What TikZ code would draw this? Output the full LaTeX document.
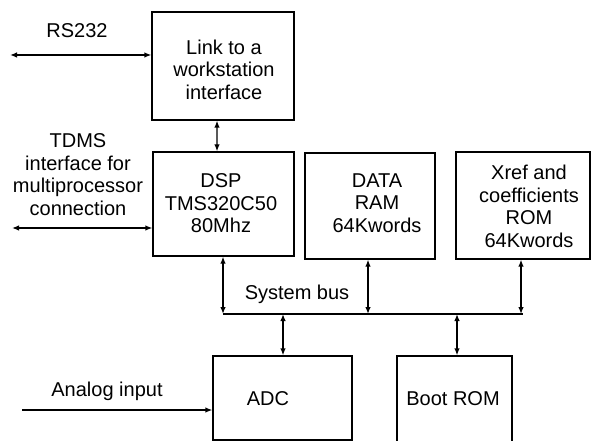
\documentclass[tikz,border=0pt]{standalone}
\usepackage{fontspec}
\setmainfont{Liberation Sans}
\usetikzlibrary{arrows.meta}
\begin{document}
\begin{tikzpicture}[x=1bp,y=-1bp,
  box/.style={draw, line width=1.3bp, rectangle, inner sep=0},
  txt/.style={inner sep=0, align=center, font=\fontsize{20bp}{22.5bp}\selectfont},
  wire/.style={line width=1.3bp},
  bi/.style={wire, {Latex[length=7bp,width=5.5bp]}-{Latex[length=7bp,width=5.5bp]}},
  uni/.style={wire, -{Latex[length=7bp,width=5.5bp]}}]
\useasboundingbox (0,0) rectangle (592,441);

% blocks (corner to corner)
\node[box, minimum width=142bp, minimum height=108bp] (link) at (223,66) {};
\node[box, minimum width=141bp, minimum height=104bp] (dsp)  at (223.5,204) {};
\node[box, minimum width=130bp, minimum height=106bp] (ram)  at (370,206) {};
\node[box, minimum width=134bp, minimum height=107bp] (rom)  at (523,205.5) {};
\node[box, minimum width=139bp, minimum height=84bp]  (adc)  at (282.5,398) {};
\node[box, minimum width=115bp, minimum height=88bp]  (boot) at (454.5,400) {};

% block texts
\node[txt] (linkt) at (224,72.5)  {\strut Link to a\\workstation\\interface\strut};
\node[txt] (dspt)  at (221,205.8) {\strut DSP\\TMS320C50\\80Mhz\strut};
\node[txt] (ramt)  at (377,205.5) {\strut DATA\\RAM\\64Kwords\strut};
\node[txt] (romt)  at (529,209)   {\strut Xref and\\coefficients\\ROM\\64Kwords\strut};
\node[txt] (adct)  at (268,400.5) {\strut ADC\strut};
\node[txt] (boott) at (453,400.5) {\strut Boot ROM\strut};

% free labels
\node[txt] (rsl)   at (77,33.5)   {\strut RS232\strut};
\node[txt] (tdl)   at (78,177)    {\strut TDMS\\interface for\\multiprocessor\\connection\strut};
\node[txt] (busl)  at (297,294.5) {\strut System bus\strut};
\node[txt] (anl)   at (107,391.5) {\strut Analog input\strut};

% free ends and bus taps
\coordinate (rsEnd) at (10,55);
\coordinate (tdEnd) at (12,228);
\coordinate (anEnd) at (22,410);
\coordinate (busL)  at (223,314);
\coordinate (busR)  at (523,314);
\coordinate (tapRam) at (368,314);
\coordinate (tapRom) at (521,314);
\coordinate (tapAdc) at (283,314);
\coordinate (tapBoot) at (457,314);

% external links
\draw[bi] (rsEnd) -- (rsEnd -| link.west);
\draw[bi] (tdEnd) -- (tdEnd -| dsp.west);
\draw[uni] (anEnd) -- (anEnd -| adc.west);
\draw[bi] ([xshift=-6bp]link.south) -- ([xshift=-6.5bp]dsp.north);

% system bus
\draw[wire] (busL) -- (busR);
\draw[bi] (dsp.south -| busL) -- (busL);
\draw[bi] (ram.south -| tapRam) -- (tapRam);
\draw[bi] (rom.south -| tapRom) -- (tapRom);
\draw[bi] (tapAdc) -- (adc.north -| tapAdc);
\draw[bi] (tapBoot) -- (boot.north -| tapBoot);
\end{tikzpicture}
\end{document}
